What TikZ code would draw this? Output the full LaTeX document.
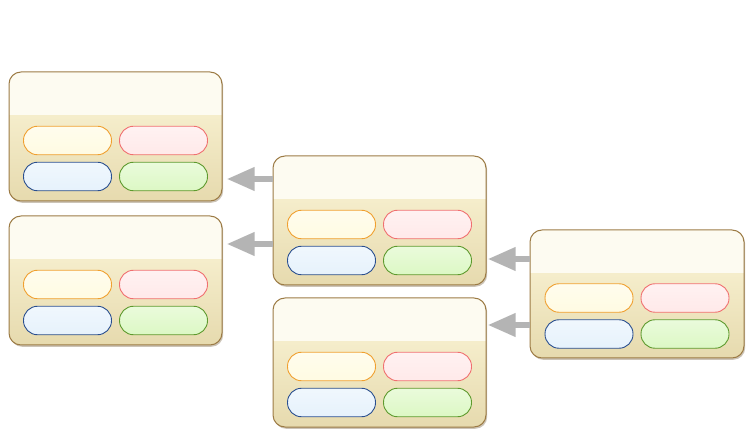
\documentclass[tikz,border=0pt]{standalone}
\usepackage{tikz}
\usetikzlibrary{arrows.meta,positioning,shadows}
\definecolor{cardline}{HTML}{9C7B45}
\definecolor{cardtop}{HTML}{FDFBF1}
\definecolor{cardmid}{HTML}{F5EDCB}
\definecolor{cardbot}{HTML}{E6DAAE}
\definecolor{yelline}{HTML}{F0A030}
\definecolor{yelfill}{HTML}{FFFBE2}
\definecolor{redline}{HTML}{F07070}
\definecolor{redfill}{HTML}{FFE9E9}
\definecolor{bluline}{HTML}{2A4F8F}
\definecolor{blufill}{HTML}{E6F2FC}
\definecolor{grnline}{HTML}{5E9A2E}
\definecolor{grnfill}{HTML}{DCF8C4}
\definecolor{flowgray}{HTML}{B4B4B4}

\begin{document}
\begin{tikzpicture}[x=1pt,y=-1pt,node distance=14pt]
	\tikzset{card/.style={draw=cardline,line width=1pt,rounded corners=12pt,
		minimum width=213pt,minimum height=129pt,
		drop shadow={shadow xshift=1.2pt,shadow yshift=-1.8pt,opacity=0.35,fill=cardline!70!black},
		path picture={
			\fill[cardtop,sharp corners] (path picture bounding box.north west) rectangle ([yshift=-44pt]path picture bounding box.north east);
			\shade[top color=cardmid,bottom color=cardbot,sharp corners] ([yshift=-44pt]path picture bounding box.north west) rectangle (path picture bounding box.south east);
		}}}
	\tikzset{pill/.style={line width=0.9pt,rounded corners=14pt,minimum width=88pt,minimum height=28.5pt}}
	\tikzset{flow/.style={-{Triangle[width=22pt,length=28pt]},draw=flowgray,line width=6.5pt,shorten >=4pt}}
	\useasboundingbox (0,0) rectangle (752,435);
	
	\node[card] (A) at (115.5,136.5) {};
	\node[card] (B) [below=of A] {};
	\node[card] (C) at (379.5,220.5) {};
	\node[card] (D) [below=12pt of C] {};
	\node[card,minimum width=214pt,minimum height=128pt] (E) at (637,294) {};
	
	\foreach \c in {A,B,C,D,E}{
		\node[pill,draw=yelline,top color=yelfill!60!white,bottom color=yelfill] (\c1) at ([xshift=-48pt,yshift=-4pt]\c.center) {};
		\node[pill,draw=redline,top color=redfill!60!white,bottom color=redfill] (\c2) at ([xshift=48pt,yshift=-4pt]\c.center) {};
		\node[pill,draw=bluline,top color=blufill!60!white,bottom color=blufill] (\c3) at ([xshift=-48pt,yshift=-40pt]\c.center) {};
		\node[pill,draw=grnline,top color=grnfill!60!white,bottom color=grnfill] (\c4) at ([xshift=48pt,yshift=-40pt]\c.center) {};
	}
	
	\draw[flow] ([yshift=41.5pt]C.west) -- ([yshift=41.5pt]C.west -| A.east);
	\draw[flow] ([yshift=-23.5pt]C.west) -- ([yshift=-23.5pt]C.west -| B.east);
	\draw[flow,shorten >=1pt] ([yshift=35pt]E.west) -- ([yshift=35pt]E.west -| C.east);
	\draw[flow,shorten >=1pt] ([yshift=-31pt]E.west) -- ([yshift=-31pt]E.west -| D.east);
\end{tikzpicture}
\end{document}
